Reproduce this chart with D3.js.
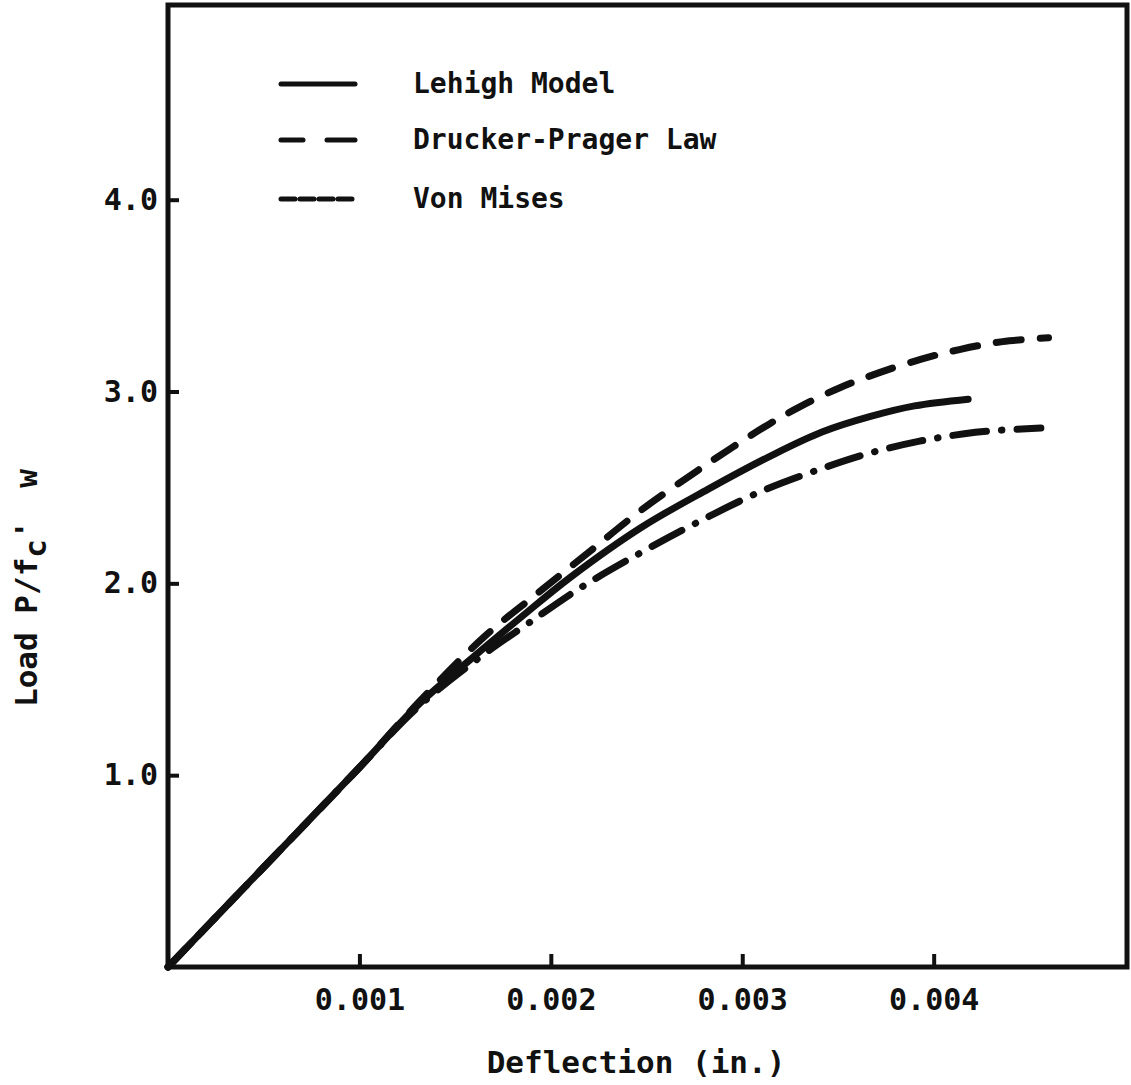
<!DOCTYPE html>
<html lang="en">
<head>
  <meta charset="UTF-8">
  <title>Load vs Deflection</title>
  <script src="https://d3js.org/d3.v7.min.js"></script>
  <style>
    body { margin: 0; background: #fff; }
    text {
      font-family: "DejaVu Sans Mono", "Liberation Mono", monospace;
      font-weight: bold;
      fill: #111;
    }
  </style>
</head>
<body>
  <div id="chart"></div>
  <script>
    // values (deflection in inches, load P/f'c w)
    const lehighX = [0, 0.0005, 0.001, 0.0013, 0.0016, 0.00184, 0.0021, 0.00247, 0.00282, 0.00316, 0.00342, 0.00367, 0.0039, 0.00418];
    const lehighY = [0, 0.52, 1.04, 1.36, 1.62, 1.82, 2.03, 2.29, 2.49, 2.67, 2.79, 2.87, 2.925, 2.96];

    const druckerX = [0, 0.0005, 0.001, 0.0013, 0.00165, 0.00192, 0.00207, 0.00222, 0.00247, 0.00274, 0.00295, 0.00314, 0.0033, 0.00351, 0.00372, 0.00394, 0.00414, 0.00436, 0.0046];
    const druckerY = [0, 0.52, 1.04, 1.37, 1.72, 1.94, 2.06, 2.18, 2.38, 2.57, 2.71, 2.83, 2.92, 3.02, 3.10, 3.17, 3.22, 3.26, 3.28];

    const misesX = [0, 0.0005, 0.001, 0.0013, 0.00165, 0.00188, 0.00216, 0.00247, 0.00277, 0.0031, 0.00342, 0.00367, 0.00392, 0.00416, 0.0043, 0.00456];
    const misesY = [0, 0.52, 1.04, 1.35, 1.63, 1.79, 1.98, 2.16, 2.32, 2.48, 2.60, 2.68, 2.74, 2.78, 2.795, 2.81];

    const xTicks = [0.001, 0.002, 0.003, 0.004];
    const yTicks = [1, 2, 3, 4];

    const seriesNames = ["Lehigh Model", "Drucker-Prager Law", "Von Mises"];

    const width = 1131, height = 1085;
    const plotLeft = 168, plotRight = 1127, plotTop = 5, plotBottom = 967;

    const svg = d3.select("#chart").append("svg")
      .attr("width", width)
      .attr("height", height);

    const x = d3.scaleLinear().domain([0, 0.00501]).range([plotLeft, plotRight]);
    const y = d3.scaleLinear().domain([0, 5.015]).range([plotBottom, plotTop]);

    // frame
    svg.append("rect")
      .attr("x", plotLeft).attr("y", plotTop)
      .attr("width", plotRight - plotLeft).attr("height", plotBottom - plotTop)
      .attr("fill", "none")
      .attr("stroke", "#111")
      .attr("stroke-width", 5);

    // axes with inward ticks
    const xAxis = svg.append("g")
      .attr("transform", `translate(0,${plotBottom})`)
      .call(d3.axisBottom(x).tickValues(xTicks).tickFormat(d3.format(".3f"))
        .tickSizeInner(-13).tickSizeOuter(0).tickPadding(22));
    xAxis.select(".domain").remove();
    xAxis.selectAll(".tick line").attr("stroke", "#111").attr("stroke-width", 4);
    xAxis.selectAll(".tick text").style("font-size", "30px");

    const yAxis = svg.append("g")
      .attr("transform", `translate(${plotLeft},0)`)
      .call(d3.axisLeft(y).tickValues(yTicks).tickFormat(d3.format(".1f"))
        .tickSizeInner(-11).tickSizeOuter(0).tickPadding(10));
    yAxis.select(".domain").remove();
    yAxis.selectAll(".tick line").attr("stroke", "#111").attr("stroke-width", 4);
    yAxis.selectAll(".tick text").style("font-size", "30px");

    // axis titles
    svg.append("text")
      .attr("x", 636).attr("y", 1073)
      .attr("text-anchor", "middle")
      .style("font-size", "31px")
      .text("Deflection (in.)");

    const yTitle = svg.append("text")
      .attr("transform", "translate(37,707) rotate(-90)")
      .attr("text-anchor", "start")
      .style("font-size", "31px");
    yTitle.append("tspan").text("Load  P/f");
    yTitle.append("tspan").attr("dy", 9).text("c");
    yTitle.append("tspan").attr("dy", -9).text("'");
    yTitle.append("tspan").attr("dx", 14).text(" w");

    // curves
    const line = d3.line()
      .x(d => x(d[0]))
      .y(d => y(d[1]))
      .curve(d3.curveCatmullRom.alpha(0.5));

    const series = [
      { xs: lehighX, ys: lehighY, dash: null },
      { xs: druckerX, ys: druckerY, dash: "25,19" },
      { xs: misesX, ys: misesY, dash: "34,15,0.5,15" }
    ];

    svg.append("g").selectAll("path")
      .data(series)
      .enter().append("path")
      .attr("d", s => line(d3.zip(s.xs, s.ys)))
      .attr("fill", "none")
      .attr("stroke", "#111")
      .attr("stroke-width", 7)
      .attr("stroke-linecap", "round")
      .attr("stroke-dasharray", s => s.dash);

    // legend
    const legendDash = [null, "22,24,40", "14,5"];
    const legendY = [84, 140, 199];
    const legend = svg.append("g");
    seriesNames.forEach((name, i) => {
      legend.append("line")
        .attr("x1", 281).attr("x2", 355)
        .attr("y1", legendY[i]).attr("y2", legendY[i])
        .attr("stroke", "#111")
        .attr("stroke-width", 5)
        .attr("stroke-linecap", "round")
        .attr("stroke-dasharray", legendDash[i]);
      legend.append("text")
        .attr("x", 413).attr("y", legendY[i] + 9)
        .style("font-size", "28px")
        .text(name);
    });
  </script>
</body>
</html>
